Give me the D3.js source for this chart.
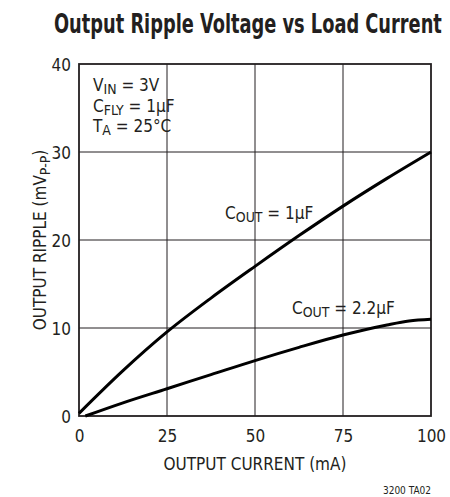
<!DOCTYPE html>
<html>
<head>
<meta charset="utf-8">
<script src="https://cdn.jsdelivr.net/npm/d3@7"></script>
<style>
  body { margin: 0; background: #fff; }
  svg text { font-family: "Liberation Sans Narrow", "Arial Narrow", "DejaVu Sans Condensed", sans-serif; fill: #231f20; }
</style>
</head>
<body>
<div id="chart"></div>
<script>
// values
var xTicks = [0, 25, 50, 75, 100];
var yTicks = [0, 10, 20, 30, 40];

// C_OUT = 1uF
var cout1x = [0, 12.5, 25, 37.5, 50, 62.5, 75, 87.5, 100];
var cout1y = [0.3, 5.15, 9.55, 13.4, 17.0, 20.5, 23.85, 27.0, 30.0];

// C_OUT = 2.2uF
var cout22x = [1.8, 12.5, 25, 37.5, 50, 62.5, 75, 87.5, 93.75, 100];
var cout22y = [0, 1.5, 3.1, 4.7, 6.3, 7.8, 9.2, 10.35, 10.8, 11.0];

var width = 450, height = 497;
var margin = { top: 64, right: 19, bottom: 81, left: 79 };
var w = width - margin.left - margin.right;   // 352
var h = height - margin.top - margin.bottom;  // 352

var svg = d3.select("#chart").append("svg")
  .attr("width", width)
  .attr("height", height);

// title, squeezed horizontally to the reference width
var title = svg.append("text")
  .style("font-size", "27px")
  .style("font-weight", "bold")
  .text("Output Ripple Voltage vs Load Current");
var tw = title.node().getComputedTextLength();
title.attr("transform", "translate(54,33) scale(" + (388 / tw) + ",1)");

var g = svg.append("g")
  .attr("transform", "translate(" + margin.left + "," + margin.top + ")");

var x = d3.scaleLinear().domain([0, 100]).range([0, w]);
var y = d3.scaleLinear().domain([0, 40]).range([h, 0]);

// grid
g.append("g")
  .selectAll("line.vx")
  .data(xTicks.slice(1, -1))
  .enter().append("line")
  .attr("x1", function (d) { return x(d); })
  .attr("x2", function (d) { return x(d); })
  .attr("y1", 0).attr("y2", h)
  .attr("stroke", "#231f20").attr("stroke-width", 1);

g.append("g")
  .selectAll("line.hy")
  .data(yTicks.slice(1, -1))
  .enter().append("line")
  .attr("x1", 0).attr("x2", w)
  .attr("y1", function (d) { return y(d); })
  .attr("y2", function (d) { return y(d); })
  .attr("stroke", "#231f20").attr("stroke-width", 1);

// frame
g.append("rect")
  .attr("x", 0).attr("y", 0)
  .attr("width", w).attr("height", h)
  .attr("fill", "none")
  .attr("stroke", "#231f20")
  .attr("stroke-width", 1.8);

// axes labels via d3 axes, domain and ticks hidden
var xAxis = g.append("g")
  .attr("transform", "translate(0," + h + ")")
  .call(d3.axisBottom(x).tickValues(xTicks).tickSize(0).tickPadding(10));
var yAxis = g.append("g")
  .call(d3.axisLeft(y).tickValues(yTicks).tickSize(0).tickPadding(8));
[xAxis, yAxis].forEach(function (a) {
  a.select(".domain").remove();
  a.selectAll("text")
    .attr("fill", "#231f20")
    .style("font-size", "17px")
    .style("font-family", null);
});
xAxis.selectAll("text").attr("dy", "0.95em");
yAxis.selectAll("text").attr("dy", "0.36em");

// curves
var line = d3.line()
  .x(function (d) { return x(d[0]); })
  .y(function (d) { return y(d[1]); })
  .curve(d3.curveMonotoneX);

g.append("path")
  .datum(d3.zip(cout1x, cout1y))
  .attr("fill", "none")
  .attr("stroke", "#000")
  .attr("stroke-width", 3)
  .attr("d", line);

g.append("path")
  .datum(d3.zip(cout22x, cout22y))
  .attr("fill", "none")
  .attr("stroke", "#000")
  .attr("stroke-width", 3)
  .attr("d", line);

// text with subscript
function subText(parent, xp, yp, parts, size) {
  var t = parent.append("text")
    .attr("x", xp).attr("y", yp)
    .style("font-size", size + "px");
  parts.forEach(function (p) {
    var s = t.append("tspan").text(p[0]);
    if (p[1] === "sub") {
      s.attr("dy", "0.25em").style("font-size", (size * 0.82) + "px");
    } else if (p[1] === "back") {
      s.attr("dy", "-0.2em");
    }
  });
  return t;
}

// conditions box
subText(g, 14, 27, [["V"], ["IN", "sub"], [" = 3V", "back"]], 17);
subText(g, 14, 48, [["C"], ["FLY", "sub"], [" = 1\u00b5F", "back"]], 17);
subText(g, 14, 68, [["T"], ["A", "sub"], [" = 25\u00b0C", "back"]], 17);

// curve labels
subText(g, x(41.5), y(22.4), [["C"], ["OUT", "sub"], [" = 1\u00b5F", "back"]], 17);
subText(g, x(60.5), y(11.6), [["C"], ["OUT", "sub"], [" = 2.2\u00b5F", "back"]], 17);

// axis titles
svg.append("text")
  .attr("x", margin.left + w / 2)
  .attr("y", 470)
  .attr("text-anchor", "middle")
  .style("font-size", "17px")
  .text("OUTPUT CURRENT (mA)");

var yt = svg.append("text")
  .attr("transform", "translate(46," + (margin.top + h / 2) + ") rotate(-90)")
  .attr("text-anchor", "middle")
  .style("font-size", "17px");
yt.append("tspan").text("OUTPUT RIPPLE (mV");
yt.append("tspan").attr("dy", "0.25em").style("font-size", "14px").text("P-P");
yt.append("tspan").attr("dy", "-0.2em").text(")");

// figure id
svg.append("text")
  .attr("x", 431)
  .attr("y", 494)
  .attr("text-anchor", "end")
  .style("font-size", "10px")
  .text("3200 TA02");
</script>
</body>
</html>
